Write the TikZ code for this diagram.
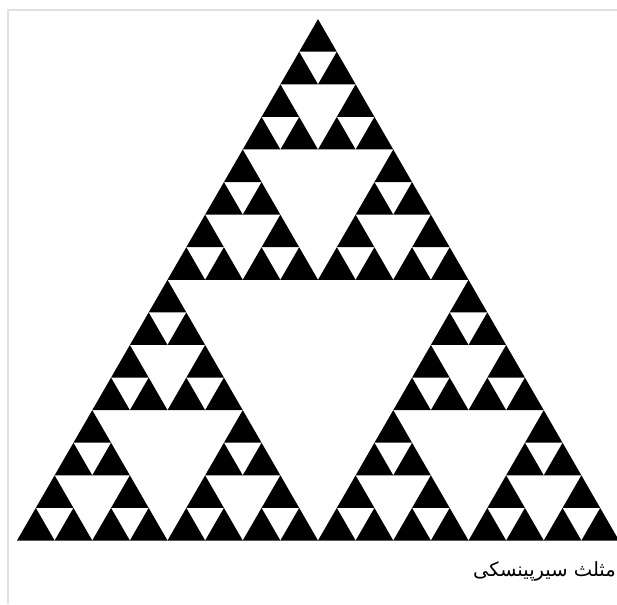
\documentclass[tikz,border=0pt]{standalone}
\usepackage{fontspec}
\newfontfamily\arabicfont[Script=Arabic]{DejaVu Sans}
\TeXXeTstate=1
\usetikzlibrary{positioning}

% one level of the triangle: level, x and y of the lower left corner, side
\newcommand{\sierptri}[4]{%
  \ifnum#1=0\relax
    \fill[tri] (#2,#3) -- ++(#4,0) -- ++(120:#4) -- cycle;
  \else
    \begingroup
    \edef\px{#2}\edef\py{#3}\edef\ps{#4}%
    \pgfmathtruncatemacro{\lev}{#1-1}%
    \pgfmathsetmacro{\half}{\ps/2}%
    \pgfmathsetmacro{\xm}{\px+\half}%
    \pgfmathsetmacro{\xq}{\px+\half/2}%
    \pgfmathsetmacro{\ym}{\py+\half*0.8660254}%
    \sierptri{\lev}{\px}{\py}{\half}%
    \sierptri{\lev}{\xm}{\py}{\half}%
    \sierptri{\lev}{\xq}{\ym}{\half}%
    \endgroup
  \fi}

\begin{document}
\begin{tikzpicture}[
  x=1pt, y=1pt,
  tri/.style={fill=black},
  frameline/.style={draw=black!12, line width=1.2pt},
  caption/.style={font=\arabicfont\fontsize{19.5}{22}\selectfont, inner sep=0pt}
]
\useasboundingbox (0,0) rectangle (617,604);

% light frame round the figure
\draw[frameline] (8,0) -- (8,594) -- (630,594);

% the triangle, four levels deep
\sierptri{4}{17}{63.5}{602}

\node (title) [caption, anchor=base east] at (616,28) {\beginR مثلث سیرپینسکی\endR};
\end{tikzpicture}
\end{document}
